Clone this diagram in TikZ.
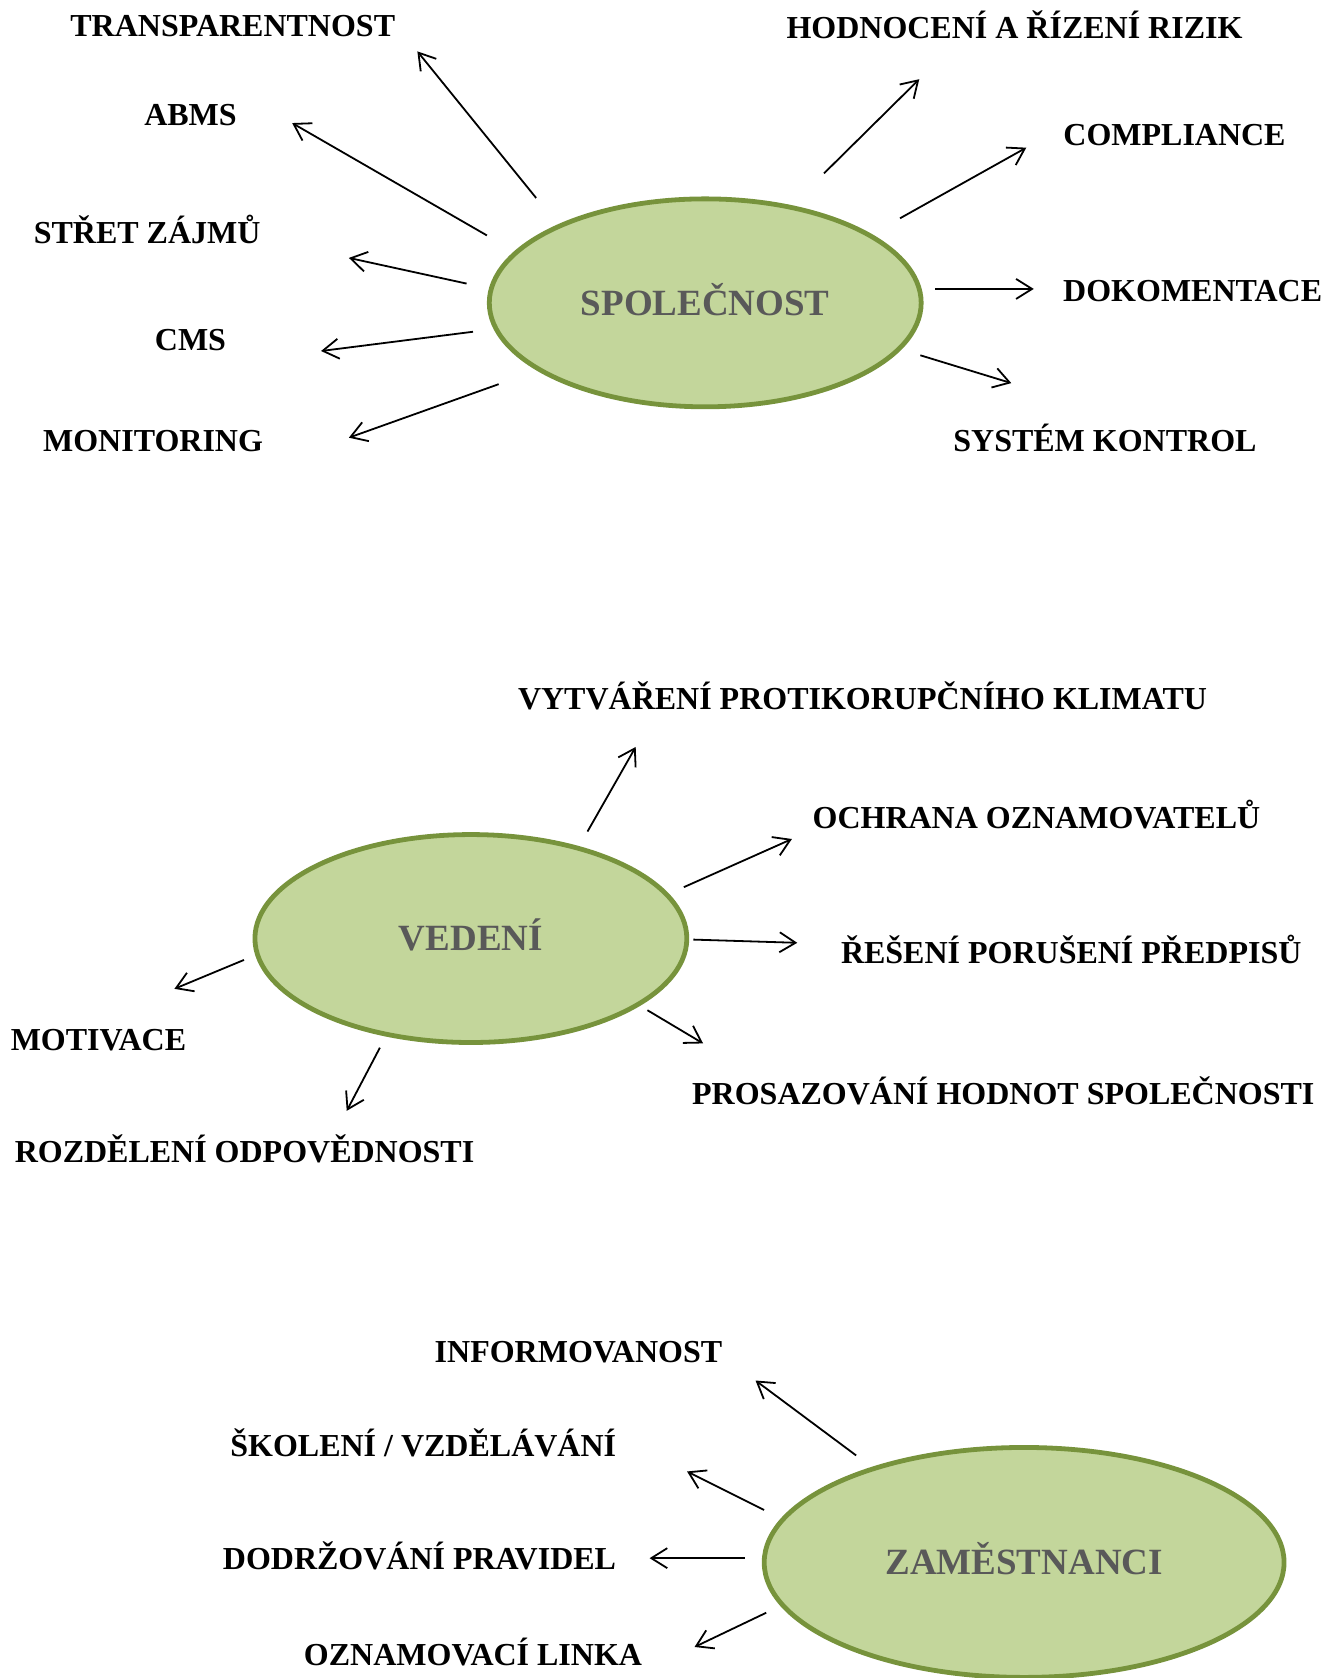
\documentclass[tikz,border=0pt]{standalone}
\usepackage{fontspec}
\setmainfont{Liberation Serif}
\usetikzlibrary{shapes.geometric,arrows.meta}
\definecolor{olivefill}{HTML}{C3D69B}
\definecolor{olivedraw}{HTML}{77933C}
\definecolor{hubtext}{HTML}{595959}

\begin{document}
\begin{tikzpicture}[x=0.5352pt,y=-0.5352pt,
    hub/.style={ellipse,draw=olivedraw,line width=2.4pt,fill=olivefill,inner sep=0pt,
      text=hubtext,text height=12.2pt,text depth=0pt,font=\fontsize{18.5}{22}\selectfont\bfseries},
    tag/.style={inner sep=0pt,text height=10.6pt,text depth=0pt,font=\fontsize{16}{19}\selectfont\bfseries},
    ray/.style={line width=0.9pt,-{Straight Barb[length=8pt,width=10pt]}}]
    \useasboundingbox (0,0) rectangle (1250,1568);

    % Spolecnost
    \node[hub,minimum width=216pt,minimum height=104pt] (spol) at (659,283) {SPOLEČNOST};
    \node[tag] (transp) at (217.5,24) {TRANSPARENTNOST};
    \node[tag] (abms) at (178,107) {ABMS};
    \node[tag] (stret) at (137.5,218) {STŘET ZÁJMŮ};
    \node[tag] (cms) at (178,318) {CMS};
    \node[tag] (monit) at (143,412) {MONITORING};
    \node[tag] (hodn) at (948,26) {HODNOCENÍ A ŘÍZENÍ RIZIK};
    \node[tag] (compl) at (1097.5,126) {COMPLIANCE};
    \node[tag] (dokom) at (1114.5,272) {DOKOMENTACE};
    \node[tag] (system) at (1032.5,412) {SYSTÉM KONTROL};

    \coordinate (transpA) at (501,185); \coordinate (transpB) at (390,48);
    \coordinate (abmsA) at (455,220);   \coordinate (abmsB) at (273,115);
    \coordinate (stretA) at (436,265);  \coordinate (stretB) at (326,241);
    \coordinate (cmsA) at (442,310);    \coordinate (cmsB) at (300,328);
    \coordinate (monitA) at (466,359);  \coordinate (monitB) at (326,409);
    \coordinate (hodnA) at (770,162);   \coordinate (hodnB) at (859,74);
    \coordinate (complA) at (841,204);  \coordinate (complB) at (959,138);
    \coordinate (dokomA) at (874,270);  \coordinate (dokomB) at (966,270);
    \coordinate (systemA) at (860,332); \coordinate (systemB) at (945,358);
    \draw[ray] (transpA) -- (transpB);
    \draw[ray] (abmsA) -- (abmsB);
    \draw[ray] (stretA) -- (stretB);
    \draw[ray] (cmsA) -- (cmsB);
    \draw[ray] (monitA) -- (monitB);
    \draw[ray] (hodnA) -- (hodnB);
    \draw[ray] (complA) -- (complB);
    \draw[ray] (dokomA) -- (dokomB);
    \draw[ray] (systemA) -- (systemB);

    % Vedeni
    \node[hub,minimum width=216pt,minimum height=104pt] (ved) at (440,877) {VEDENÍ};
    \node[tag] (vytv) at (806,653) {VYTVÁŘENÍ PROTIKORUPČNÍHO KLIMATU};
    \node[tag] (ochr) at (968.5,764) {OCHRANA OZNAMOVATELŮ};
    \node[tag] (reseni) at (1001,890) {ŘEŠENÍ PORUŠENÍ PŘEDPISŮ};
    \node[tag] (prosaz) at (937.5,1022) {PROSAZOVÁNÍ HODNOT SPOLEČNOSTI};
    \node[tag] (motiv) at (92,972) {MOTIVACE};
    \node[tag] (rozd) at (228.5,1076) {ROZDĚLENÍ ODPOVĚDNOSTI};

    \coordinate (vytvA) at (549,777);   \coordinate (vytvB) at (594,698);
    \coordinate (ochrA) at (639,829);   \coordinate (ochrB) at (740,784);
    \coordinate (reseniA) at (648,878); \coordinate (reseniB) at (745,881);
    \coordinate (prosazA) at (605,944); \coordinate (prosazB) at (657,975);
    \coordinate (motivA) at (228,897);  \coordinate (motivB) at (163,924);
    \coordinate (rozdA) at (355,979);   \coordinate (rozdB) at (324,1038);
    \draw[ray] (vytvA) -- (vytvB);
    \draw[ray] (ochrA) -- (ochrB);
    \draw[ray] (reseniA) -- (reseniB);
    \draw[ray] (prosazA) -- (prosazB);
    \draw[ray] (motivA) -- (motivB);
    \draw[ray] (rozdA) -- (rozdB);

    % Zamestnanci
    \node[hub,minimum width=260pt,minimum height=115pt] (zam) at (957,1460) {ZAMĚSTNANCI};
    \node[tag] (inform) at (540.5,1263) {INFORMOVANOST};
    \node[tag] (skol) at (395.5,1351) {ŠKOLENÍ / VZDĚLÁVÁNÍ};
    \node[tag] (dodrz) at (392,1457) {DODRŽOVÁNÍ PRAVIDEL};
    \node[tag] (linka) at (442,1546) {OZNAMOVACÍ LINKA};

    \coordinate (informA) at (800,1360); \coordinate (informB) at (706,1290);
    \coordinate (skolA) at (714,1411);   \coordinate (skolB) at (642,1375);
    \coordinate (dodrzA) at (696,1456);  \coordinate (dodrzB) at (607,1456);
    \coordinate (linkaA) at (716,1507);  \coordinate (linkaB) at (649,1539);
    \draw[ray] (informA) -- (informB);
    \draw[ray] (skolA) -- (skolB);
    \draw[ray] (dodrzA) -- (dodrzB);
    \draw[ray] (linkaA) -- (linkaB);
  \end{tikzpicture}
\end{document}
